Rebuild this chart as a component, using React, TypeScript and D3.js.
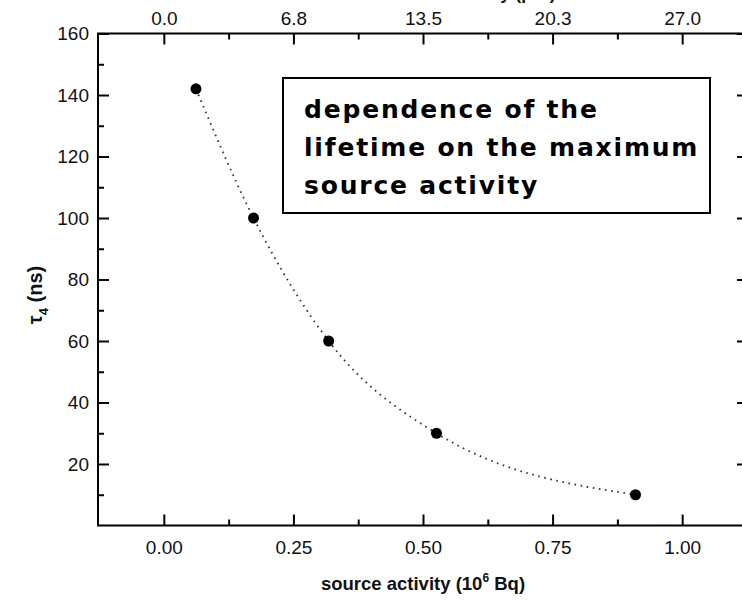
import React, { useEffect, useRef } from "react";
import * as d3 from "d3";

// source activity (10^6 Bq) vs lifetime tau4 (ns)
const activity = [0.062, 0.173, 0.318, 0.526, 0.91];
const lifetime = [142, 100, 60, 30, 10];

const xMajor = [0, 0.25, 0.5, 0.75, 1.0];
const xMinor = [0.125, 0.375, 0.625, 0.875];
const topLabels = ["0.0", "6.8", "13.5", "20.3", "27.0"];
const yMajor = [20, 40, 60, 80, 100, 120, 140, 160];
const yMinor = [10, 30, 50, 70, 90, 110, 130, 150];

const noteLines = ["dependence of the", "lifetime on the maximum", "source activity"];

const W = 742;
const H = 601;
const left = 98, right = 748, top = 33.5, bottom = 525.5;

export default function App() {
  const ref = useRef<SVGSVGElement>(null);

  useEffect(() => {
    const svg = d3.select(ref.current);
    svg.selectAll("*").remove();

    const x = d3.scaleLinear().domain([-0.127, 1.127]).range([left, right]);
    const y = d3.scaleLinear().domain([0, 160]).range([bottom, top]);

    const font = "'Liberation Sans', Arial, sans-serif";

    const styleAxis = (g: any) => {
      g.select(".domain").remove();
      g.selectAll(".tick line").attr("stroke", "#000").attr("stroke-width", 2);
      g.selectAll(".tick text").attr("fill", "#111").style("font-size", "19px").style("font-family", font);
    };

    // bottom
    svg.append("g").attr("transform", `translate(0,${bottom})`)
      .call(d3.axisBottom(x).tickValues(xMajor).tickSize(-11).tickPadding(15).tickFormat(d3.format(".2f") as any))
      .call(styleAxis);
    svg.append("g").attr("transform", `translate(0,${bottom})`)
      .call(d3.axisBottom(x).tickValues(xMinor).tickSize(-6).tickFormat(() => ""))
      .call(styleAxis);

    // top
    svg.append("g").attr("transform", `translate(0,${top})`)
      .call(d3.axisTop(x).tickValues(xMajor).tickSize(-11).tickPadding(9).tickFormat((d, i) => topLabels[i]))
      .call(styleAxis);
    svg.append("g").attr("transform", `translate(0,${top})`)
      .call(d3.axisTop(x).tickValues(xMinor).tickSize(-6).tickFormat(() => ""))
      .call(styleAxis);

    // left
    svg.append("g").attr("transform", `translate(${left},0)`)
      .call(d3.axisLeft(y).tickValues(yMajor).tickSize(-11).tickPadding(9))
      .call(styleAxis);
    svg.append("g").attr("transform", `translate(${left},0)`)
      .call(d3.axisLeft(y).tickValues(yMinor).tickSize(-6).tickFormat(() => ""))
      .call(styleAxis);

    // right
    svg.append("g").attr("transform", `translate(${right},0)`)
      .call(d3.axisRight(y).tickValues(yMajor).tickSize(-11).tickFormat(() => ""))
      .call(styleAxis);
    svg.append("g").attr("transform", `translate(${right},0)`)
      .call(d3.axisRight(y).tickValues(yMinor).tickSize(-6).tickFormat(() => ""))
      .call(styleAxis);

    // frame
    svg.append("rect").attr("x", left).attr("y", top)
      .attr("width", right - left).attr("height", bottom - top)
      .attr("fill", "none").attr("stroke", "#000").attr("stroke-width", 2);

    const pts = activity.map((a, i) => [a, lifetime[i]] as [number, number]);

    const line = d3.line<[number, number]>()
      .x(d => x(d[0])).y(d => y(d[1]))
      .curve(d3.curveMonotoneX);

    svg.append("path").attr("d", line(pts) as string)
      .attr("fill", "none").attr("stroke", "#333").attr("stroke-width", 1.8)
      .attr("stroke-dasharray", "1.6 4.6");

    svg.selectAll("circle.pt").data(pts).join("circle").attr("class", "pt")
      .attr("cx", d => x(d[0])).attr("cy", d => y(d[1])).attr("r", 5.5).attr("fill", "#000");

    // annotation box
    svg.append("rect").attr("x", 283).attr("y", 78).attr("width", 427).attr("height", 135)
      .attr("fill", "#fff").attr("stroke", "#000").attr("stroke-width", 2);
    svg.append("g").selectAll("text").data(noteLines).join("text")
      .attr("x", 304).attr("y", (d, i) => 118 + i * 38)
      .style("font-family", "'Comic Sans MS', 'DejaVu Sans', sans-serif")
      .style("font-weight", "bold").style("font-size", "25px").style("letter-spacing", "1.8px")
      .text(d => d);

    // axis titles
    const xt = svg.append("text").attr("x", (x(0) + x(1)) / 2).attr("y", 590)
      .attr("text-anchor", "middle").style("font-family", font).style("font-weight", "bold")
      .style("font-size", "18.5px").attr("fill", "#111");
    xt.append("tspan").text("source activity (10");
    xt.append("tspan").attr("dy", -8).style("font-size", "12px").text("6");
    xt.append("tspan").attr("dy", 8).text(" Bq)");

    // top title, mostly outside the picture
    svg.append("text").attr("x", 470).attr("y", -1).attr("text-anchor", "middle")
      .style("font-family", font).style("font-weight", "bold").style("font-size", "18px")
      .attr("fill", "#111").text("source activity (\u00b5Ci)");

    const yt = svg.append("text").attr("transform", `translate(42,${295}) rotate(-90)`)
      .attr("text-anchor", "middle").style("font-family", font).style("font-weight", "bold")
      .style("font-size", "20px").attr("fill", "#111");
    yt.append("tspan").text("\u03c4");
    yt.append("tspan").attr("dy", 6).style("font-size", "13px").text("4");
    yt.append("tspan").attr("dy", -6).text(" (ns)");
  }, []);

  return (
    <svg ref={ref} width={W} height={H}
      style={{ position: "absolute", left: 0, top: 0, background: "#fff" }} />
  );
}
